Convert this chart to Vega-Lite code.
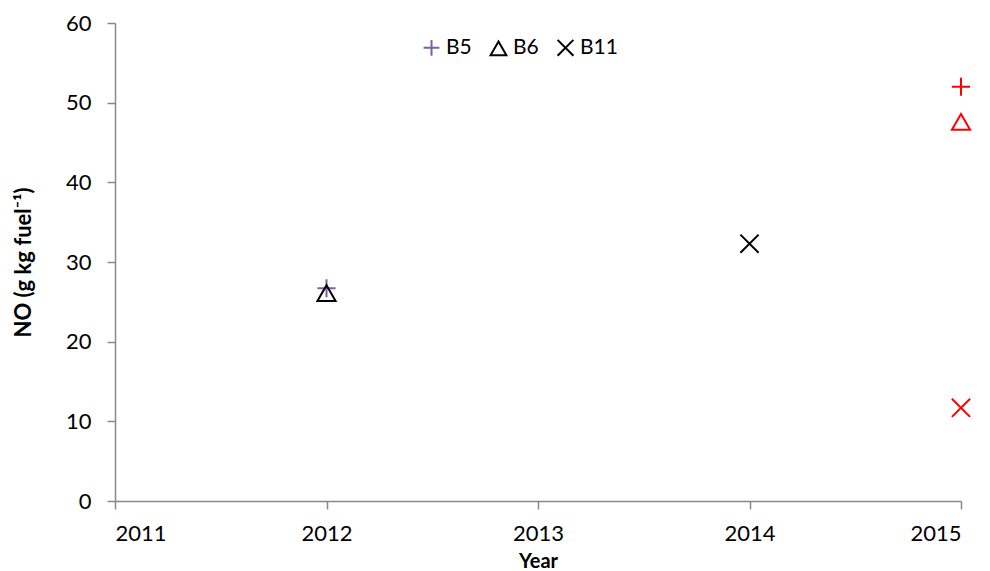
{
  "$schema": "https://vega.github.io/schema/vega-lite/v6.json",
  "width": 846,
  "height": 478,
  "autosize": {"type": "none"},
  "padding": {"left": 115, "top": 23, "right": 29, "bottom": 70},
  "background": "white",
  "config": {
    "font": "Lato",
    "view": {"stroke": null},
    "axis": {
      "grid": false,
      "domainColor": "#898989",
      "domainWidth": 1.5,
      "tickColor": "#898989",
      "tickWidth": 1.5,
      "tickSize": 8,
      "labelFont": "Lato",
      "labelFontSize": 22,
      "labelColor": "#000000",
      "titleFont": "Lato",
      "titleFontWeight": "bold",
      "titleColor": "#000000"
    }
  },
  "data": {
    "values": [
      {"Year": 2012, "Site": "B5", "NO": 26.7},
      {"Year": 2012, "Site": "B6", "NO": 26.1},
      {"Year": 2014, "Site": "B11", "NO": 32.3},
      {"Year": 2015, "Site": "B5", "NO": 52.0},
      {"Year": 2015, "Site": "B6", "NO": 47.6},
      {"Year": 2015, "Site": "B11", "NO": 11.7}
    ]
  },
  "encoding": {
    "x": {
      "field": "Year",
      "type": "quantitative",
      "scale": {"domain": [2011, 2015], "nice": false, "zero": false},
      "axis": {"values": [2011, 2012, 2013, 2014, 2015], "format": "d", "labelPadding": 14, "title": "Year", "titleFontSize": 20, "titlePadding": 7}
    },
    "y": {
      "field": "NO",
      "type": "quantitative",
      "scale": {"domain": [0, 60], "nice": false},
      "axis": {"values": [0, 10, 20, 30, 40, 50, 60], "labelPadding": 16, "title": "NO (g kg fuel⁻¹)", "titleFontSize": 22, "titlePadding": 30}
    }
  },
  "layer": [
    {
      "transform": [{"filter": "datum.Year < 2015"}],
      "mark": {"type": "point", "filled": false, "strokeWidth": 2, "size": 330, "opacity": 1},
      "encoding": {
        "shape": {
          "field": "Site",
          "type": "nominal",
          "scale": {"domain": ["B5", "B6", "B11"], "range": ["M-1,0H1M0,-1V1", "triangle-up", "M-1,-1L1,1M-1,1L1,-1"]},
          "legend": {"orient": "none", "legendX": 306, "legendY": 14, "direction": "horizontal", "title": null, "labelFontSize": 21, "labelFont": "Lato", "labelColor": "#000000", "symbolSize": 250, "symbolStrokeWidth": 2, "columnPadding": 14, "labelOffset": 4}
        },
        "color": {
          "field": "Site",
          "type": "nominal",
          "scale": {"domain": ["B5", "B6", "B11"], "range": ["#7F60A6", "#000000", "#000000"]},
          "legend": {"orient": "none", "legendX": 306, "legendY": 14, "direction": "horizontal", "title": null, "labelFontSize": 21, "labelFont": "Lato", "labelColor": "#000000", "symbolSize": 250, "symbolStrokeWidth": 2, "columnPadding": 14, "labelOffset": 4}
        }
      }
    },
    {
      "transform": [{"filter": "datum.Year == 2015"}],
      "mark": {"type": "point", "filled": false, "strokeWidth": 2, "size": 330, "color": "#FF0000", "opacity": 1},
      "encoding": {
        "shape": {"field": "Site", "type": "nominal", "legend": null}
      }
    }
  ]
}
